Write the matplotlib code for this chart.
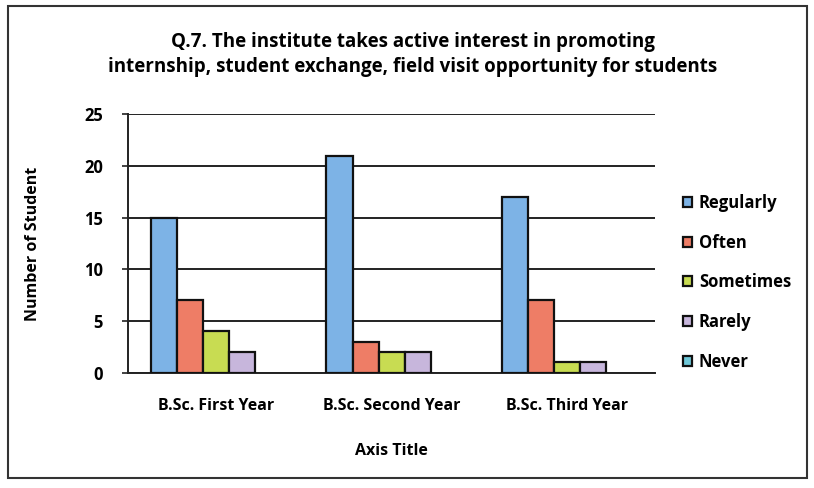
import numpy as np
import matplotlib
matplotlib.use("Agg")
import matplotlib.pyplot as plt
from matplotlib.patches import Rectangle

# values
categories = ["B.Sc. First Year", "B.Sc. Second Year", "B.Sc. Third Year"]
series = ["Regularly", "Often", "Sometimes", "Rarely", "Never"]
regularly = [15, 21, 17]
often = [7, 3, 7]
sometimes = [4, 2, 1]
rarely = [2, 2, 1]
never = [0, 0, 0]
y_ticks = [0, 5, 10, 15, 20, 25]

values = [regularly, often, sometimes, rarely, never]
colors = ["#7db3e6", "#ee7d66", "#c8dc52", "#c7b6dc", "#6fc8d8"]

plt.rcParams['font.family'] = ['Open Sans', 'DejaVu Sans']

fig = plt.figure(figsize=(8.14, 4.88), dpi=100)
ax = fig.add_axes([0.157, 0.236, 0.648, 0.530])

x = np.arange(len(categories))
width = 0.148
for i, (name, vals) in enumerate(zip(series, values)):
    offs = (i - 2) * width
    lw = [1.6 if v > 0 else 0 for v in vals]
    ax.bar(x + offs, vals, width, color=colors[i], edgecolor="#111111",
           linewidth=lw, label=name, zorder=3)

ax.set_xlim(-0.5, 2.5)
ax.set_ylim(0, 25)
ax.set_yticks(y_ticks)
ax.set_xticks(x)
ax.set_xticklabels(categories, fontsize=11.5, fontweight="bold")
ax.tick_params(axis="y", labelsize=12, length=4, width=1.2, color="#222222", pad=14)
ax.tick_params(axis="x", length=0, pad=18)
for lab in ax.get_yticklabels():
    lab.set_fontweight("bold")
ax.grid(axis="y", color="#222222", linewidth=1.4, zorder=0)
for s in ["top", "right"]:
    ax.spines[s].set_visible(False)
ax.spines["left"].set_color("#222222")
ax.spines["left"].set_linewidth(1.4)
ax.spines["bottom"].set_color("#222222")
ax.spines["bottom"].set_linewidth(1.4)

ax.set_ylabel("Number of Student", fontsize=11.5, fontweight="bold")
ax.yaxis.set_label_coords(-0.165, 0.5)
ax.set_xlabel("Axis Title", fontsize=11.5, fontweight="bold")
ax.xaxis.set_label_coords(0.5, -0.27)

fig.text(0.507, 0.888, "Q.7. The institute takes active interest in promoting\n"
         "internship, student exchange, field visit opportunity for students",
         ha="center", va="center", fontsize=13.5, fontweight="bold", linespacing=1.35)

leg = ax.legend(loc="center left", bbox_to_anchor=(1.04, 0.35), frameon=False,
                fontsize=12, handlelength=0.55, handleheight=0.55,
                handletextpad=0.4, labelspacing=1.3, borderaxespad=0)
for t in leg.get_texts():
    t.set_fontweight("bold")
for h in leg.legend_handles:
    h.set_edgecolor("#111111")
    h.set_linewidth(1.6)

# outer chart border
fig.patches.append(Rectangle((0.010, 0.020), 0.982, 0.968, transform=fig.transFigure,
                             fill=False, edgecolor="#333333", linewidth=1.5))

fig.savefig("out.png", dpi=100)
